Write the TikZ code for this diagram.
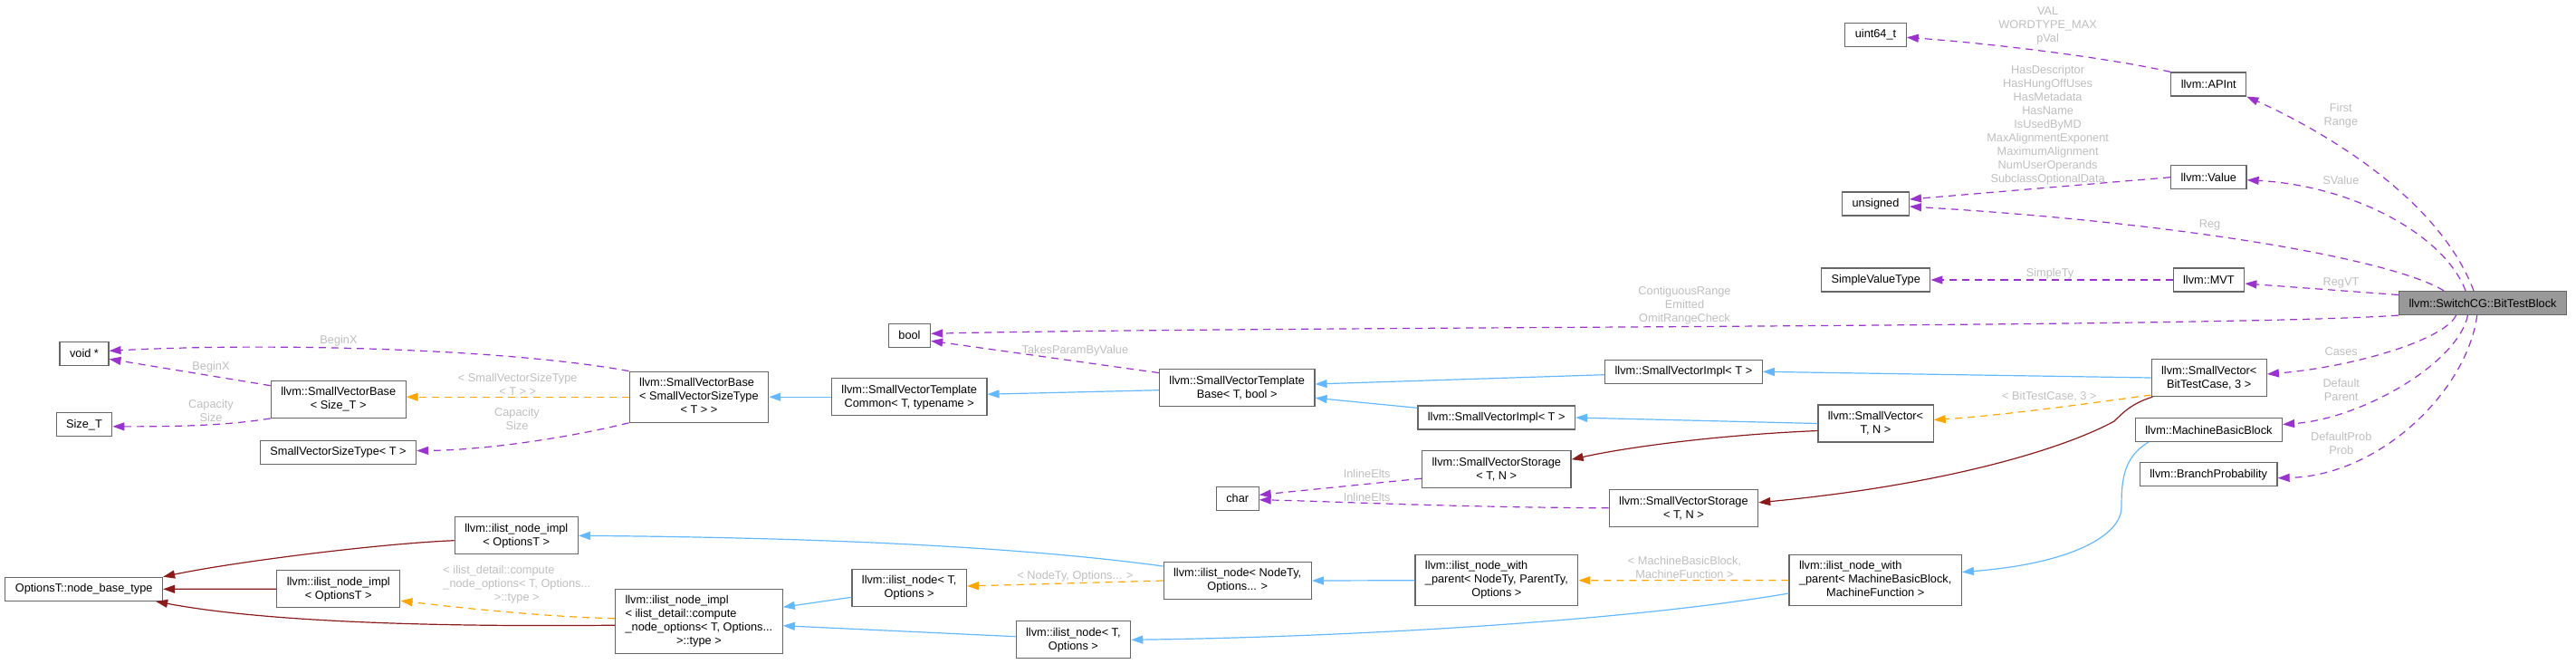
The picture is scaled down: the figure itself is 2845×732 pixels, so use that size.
\documentclass[tikz,border=0pt]{standalone}
\usepackage{fontspec}
\setmainfont{Liberation Sans}
\usetikzlibrary{arrows.meta}
\definecolor{usecol}{HTML}{9A32CD}
\definecolor{tplcol}{HTML}{FFA500}
\definecolor{pubcol}{HTML}{63B8FF}
\definecolor{privcol}{HTML}{8B1A1A}
\definecolor{lblcol}{HTML}{BEBEBE}
\definecolor{boxcol}{HTML}{666666}
\definecolor{curcol}{HTML}{999999}
\newcommand{\ml}[1]{\begin{tabular}{@{}l@{}}#1\end{tabular}}
\newcommand{\lc}[1]{\multicolumn{1}{@{}c@{}}{#1}}
\begin{document}
\begin{tikzpicture}[x=1pt, y=-1pt, every node/.style={font=\fontsize{12.75}{15}\selectfont},
  cls/.style={draw=boxcol,line width=1.2pt,fill=white,inner xsep=11pt,inner ysep=0pt,minimum height=26pt,align=center},
  cur/.style={cls,fill=curcol},
  lines2/.style={minimum height=41pt}, lines3/.style={minimum height=56pt}, lines4/.style={minimum height=71pt},
  lbl/.style={text=lblcol,align=center,inner sep=0pt},
  rel/.style={line width=1.2pt,-{Triangle[length=13pt,width=9pt]}},
  uses/.style={rel,usecol,dash pattern=on 8pt off 6pt},
  tpl/.style={rel,tplcol,dash pattern=on 8pt off 6pt},
  pub/.style={rel,pubcol},
  priv/.style={rel,privcol}]
\useasboundingbox (0,0) rectangle (2845,732);
\node[cls] (uint) at (2071.5,38.3) {uint64\_t};
\node[cls] (apint) at (2439.2,93) {llvm::APInt};
\node[cls] (value) at (2439.3,195.7) {llvm::Value};
\node[cls] (uns) at (2071.5,225) {unsigned};
\node[cls] (svt) at (2071.7,309) {SimpleValueType};
\node[cls] (mvt) at (2439.4,309) {llvm::MVT};
\node[cur] (btb) at (2742,334.5) {llvm::SwitchCG::BitTestBlock};
\node[cls] (bool) at (1004.5,370.3) {bool};
\node[cls] (voidp) at (93,390.3) {void *};
\node[cls,lines2] (svbsize) at (373.7,440.8) {llvm::SmallVectorBase\\< Size\_T >};
\node[cls] (sizet) at (93,468.8) {Size\_T};
\node[cls] (svstype) at (373.5,499.5) {SmallVectorSizeType< T >};
\node[cls,lines3] (svbase) at (771.9,438.2) {\ml{llvm::SmallVectorBase\\< SmallVectorSizeType\\\lc{< T > >}}};
\node[cls,lines2] (svtc) at (1004.2,438.2) {llvm::SmallVectorTemplate\\Common< T, typename >};
\node[cls,lines2] (svtb) at (1366.2,427.7) {llvm::SmallVectorTemplate\\Base< T, bool >};
\node[cls] (svimplA) at (1859.4,410.3) {llvm::SmallVectorImpl< T >};
\node[cls] (svimplB) at (1652.7,461) {llvm::SmallVectorImpl< T >};
\node[cls,lines2] (svbtc) at (2439.7,417) {llvm::SmallVector<\\BitTestCase, 3 >};
\node[cls,lines2] (svtn) at (2071.5,467.5) {llvm::SmallVector<\\T, N >};
\node[cls,lines2] (svstorA) at (1652.8,518.2) {llvm::SmallVectorStorage\\< T, N >};
\node[cls,lines2] (svstorB) at (1859.4,560.8) {llvm::SmallVectorStorage\\< T, N >};
\node[cls] (char) at (1366.7,550.3) {char};
\node[cls] (mbb) at (2439.4,474.5) {llvm::MachineBasicBlock};
\node[cls] (bp) at (2439.2,523.7) {llvm::BranchProbability};
\node[cls,lines2] (ilniA) at (570.3,591.3) {llvm::ilist\_node\_impl\\< OptionsT >};
\node[cls] (nbt) at (92.7,650.3) {OptionsT::node\_base\_type};
\node[cls,lines2] (ilniB) at (373.8,650.2) {llvm::ilist\_node\_impl\\< OptionsT >};
\node[cls,lines4] (ilniC) at (771.9,686.2) {\ml{llvm::ilist\_node\_impl\\< ilist\_detail::compute\\\_node\_options< T, Options...\\\lc{>::type >}}};
\node[cls,lines2] (ilnA) at (1004.2,649) {llvm::ilist\_node< T,\\Options >};
\node[cls,lines2] (ilnNT) at (1366.7,641) {llvm::ilist\_node< NodeTy,\\Options... >};
\node[cls,lines3] (ilnwpA) at (1652.9,640.7) {\ml{llvm::ilist\_node\_with\\\_parent< NodeTy, ParentTy,\\\lc{Options >}}};
\node[cls,lines3] (ilnwpB) at (2071.2,640.5) {\ml{llvm::ilist\_node\_with\\\_parent< MachineBasicBlock,\\\lc{MachineFunction >}}};
\node[cls,lines2] (ilnB) at (1185.4,706.3) {llvm::ilist\_node< T,\\Options >};
\draw[uses] ([xshift=-10pt]btb.north) .. controls (2690,210) and (2545,135) .. (apint.south east);
\draw[uses] (apint.north west) .. controls (2330,64) and (2200,48) .. ([yshift=-3pt]uint.east);
\draw[uses] ([xshift=-19pt]btb.north) .. controls (2700,260) and (2600,205) .. ([yshift=-3pt]value.east);
\draw[uses] (value.west) -- ([yshift=5pt]uns.east);
\draw[uses] ([xshift=-43pt]btb.north) .. controls (2640,285) and (2400,245) .. ([yshift=-3pt]uns.east);
\draw[uses] (mvt.west) -- (svt.east);
\draw[uses] ([yshift=9pt]btb.west) -- ([yshift=-4pt]mvt.east);
\draw[uses] (btb.south west) .. controls (2450,362) and (1400,360) .. ([yshift=2pt]bool.east);
\draw[uses] ([xshift=-29.5pt]btb.south) .. controls (2700,375) and (2600,405) .. ([yshift=4pt]svbtc.east);
\draw[uses] ([xshift=-16.6pt]btb.south) .. controls (2715,400) and (2610,462) .. ([yshift=6pt]mbb.east);
\draw[uses] ([xshift=-6.3pt]btb.south) .. controls (2725,430) and (2630,525) .. ([yshift=-4pt]bp.east);
\draw[uses] ([yshift=-5pt]svtb.north west) -- ([yshift=-6pt]bool.east);
\draw[uses] (svbase.north west) .. controls (560,385) and (300,378) .. ([yshift=3pt]voidp.east);
\draw[uses] ([yshift=-6pt]svbsize.north west) -- ([yshift=-6pt]voidp.east);
\draw[uses] (svbsize.south west) .. controls (250,470) and (190,471) .. ([yshift=-2pt]sizet.east);
\draw[uses] (svbase.south west) .. controls (620,485) and (530,497) .. ([yshift=2pt]svstype.east);
\draw[uses] ([yshift=-10pt]svstorA.west) -- ([yshift=4pt]char.east);
\draw[uses] (svstorB.west) .. controls (1600,560) and (1460,553) .. ([yshift=-1.5pt]char.east);
\draw[tpl] (svbase.west) -- (svbsize.east |- svbase.west);
\draw[tpl] ([yshift=3.5pt]ilniC.west) .. controls (600,681) and (500,670) .. ([yshift=-13pt]ilniB.east);
\draw[tpl] (ilnNT.west) -- ([yshift=2pt]ilnA.east);
\draw[tpl] ([yshift=2pt]svbtc.south west) .. controls (2330,442) and (2220,458) .. ([yshift=4pt]svtn.east);
\draw[tpl] (ilnwpB.west) -- (ilnwpA.east);
\draw[pub] (svtc.west) -- (svbase.east);
\draw[pub] ([yshift=-3pt]svtb.west) -- ([yshift=3pt]svtc.east);
\draw[pub] ([yshift=-3.4pt]svimplA.west) -- ([yshift=3.7pt]svtb.east);
\draw[pub] ([yshift=10.7pt]svimplB.west) -- ([yshift=-11.6pt]svtb.east);
\draw[pub] (svbtc.west) -- (svimplA.east);
\draw[pub] (svtn.west) -- (svimplB.east);
\draw[pub] ([yshift=16pt]ilnNT.west) .. controls (1100,600) and (850,593) .. (ilniA.east);
\draw[pub] ([yshift=-10.3pt]ilnA.west) -- ([yshift=16pt]ilniC.east);
\draw[pub] ([yshift=3.6pt]ilnB.west) -- ([yshift=-4.5pt]ilniC.east);
\draw[pub] (ilnwpA.west) -- (ilnNT.east);
\draw[pub] ([yshift=-14.5pt]ilnwpB.west) .. controls (1800,685) and (1500,703) .. (ilnB.east);
\draw[pub] ([xshift=15pt]mbb.south west) .. controls (2345,505) and (2343,530) .. (2343,560) .. controls (2343,590) and (2290,622) .. ([yshift=9pt]ilnwpB.east);
\draw[priv] ([yshift=-5.4pt]ilniA.west) .. controls (420,600) and (260,620) .. (nbt.north east);
\draw[priv] (ilniB.west) -- (nbt.east);
\draw[priv] ([yshift=-4pt]ilniC.west) .. controls (500,692) and (300,688) .. ([xshift=-8pt]nbt.south east);
\draw[priv] ([yshift=-8pt]svtn.west) .. controls (1900,480) and (1800,493) .. ([yshift=11pt]svstorA.east);
\draw[priv] ([xshift=2pt]svbtc.south west) .. controls (2355,445) and (2345,455) .. (2335,465) .. controls (2280,495) and (2150,535) .. ([yshift=6pt]svstorB.east);
\node[lbl] (lVal) at (2261.6,28.3) {VAL\\WORDTYPE\_MAX\\pVal};
\node[lbl] (lFlags) at (2261.6,137.7) {HasDescriptor\\HasHungOffUses\\HasMetadata\\HasName\\IsUsedByMD\\MaxAlignmentExponent\\MaximumAlignment\\NumUserOperands\\SubclassOptionalData};
\node[lbl] (lFirst) at (2585.3,127.8) {First\\Range};
\node[lbl] (lSValue) at (2585.3,199.3) {SValue};
\node[lbl] (lReg) at (2440.6,248.3) {Reg};
\node[lbl] (lSimpleTy) at (2264,301.7) {SimpleTy};
\node[lbl] (lRegVT) at (2585.5,312.7) {RegVT};
\node[lbl] (lRange) at (1860.5,337.3) {ContiguousRange\\Emitted\\OmitRangeCheck};
\node[lbl] (lCases) at (2585.7,387.7) {Cases};
\node[lbl] (lDefault) at (2585.7,430) {Default\\Parent};
\node[lbl] (lProb) at (2585.7,489.2) {DefaultProb\\Prob};
\node[lbl] (lBTC) at (2263.3,437.3) {< BitTestCase, 3 >};
\node[lbl] (lTakes) at (1187.4,387.3) {TakesParamByValue};
\node[lbl] (lBeginA) at (374,376) {BeginX};
\node[lbl] (lBeginB) at (233,404.7) {BeginX};
\node[lbl] (lCapA) at (233,453.2) {Capacity\\Size};
\node[lbl] (lSVST) at (571.7,424.8) {< SmallVectorSizeType\\< T > >};
\node[lbl] (lCapB) at (571,462) {Capacity\\Size};
\node[lbl] (lInlA) at (1509.7,523.3) {InlineElts};
\node[lbl] (lInlB) at (1509.7,549.3) {InlineElts};
\node[lbl] (lNodeTy) at (1187.4,635.7) {< NodeTy, Options... >};
\node[lbl] (lMBB) at (1860.5,626) {< MachineBasicBlock,\\MachineFunction >};
\node[lbl] (lDetail) at (570.8,645.8) {\ml{< ilist\_detail::compute\\\_node\_options< T, Options...\\\lc{>::type >}}};
\end{tikzpicture}
\end{document}
